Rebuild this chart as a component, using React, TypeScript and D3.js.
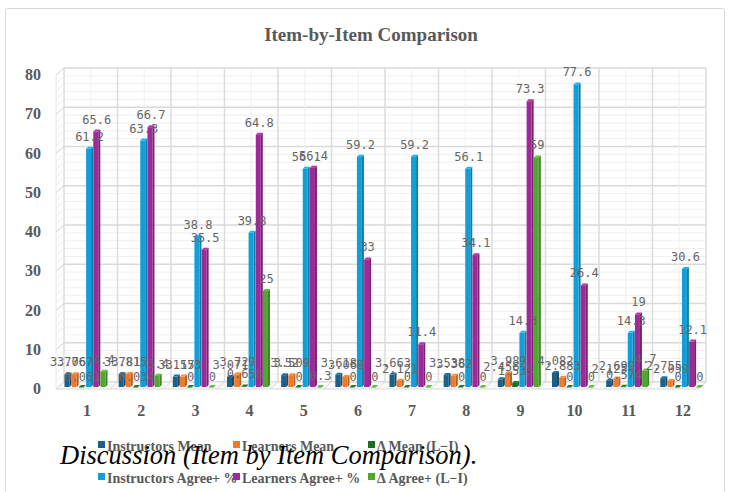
import React from 'react';
import * as d3 from 'd3';

const categories = ['1', '2', '3', '4', '5', '6', '7', '8', '9', '10', '11', '12'];
const instructorsMean = [3.706, 3.781, 3.157, 3.071, 3.52, 3.618, 3.663, 3.538, 2.456, 4.082, 2.125, 2.755];
const learnersMean = [3.767, 3.815, 3.153, 3.729, 3.509, 3.068, 2.121, 3.362, 3.989, 2.883, 2.699, 2.059];
const deltaMean = [0.061, 0.034, 0, 0.658, 0, 0, 0, 0, 1.533, 0, 0.574, 0];
const instructorsAgree = [61.2, 63.3, 38.8, 39.8, 56.1, 59.2, 59.2, 56.1, 14.3, 77.6, 14.3, 30.6];
const learnersAgree = [65.6, 66.7, 35.5, 64.8, 56.4, 33, 11.4, 34.1, 73.3, 26.4, 19, 12.1];
const deltaAgree = [4.4, 3.4, 0, 25, 0.3, 0, 0, 0, 59, 0, 4.7, 0];
const yTicks = [0, 10, 20, 30, 40, 50, 60, 70, 80];

const seriesNames = [
  'Instructors Mean',
  'Learners Mean',
  'Δ Mean (L−I)',
  'Instructors Agree+ %',
  'Learners Agree+ %',
  'Δ Agree+ (L−I)',
];
const seriesColors = ['#1d5f86', '#ee7a2e', '#1b6e24', '#109fd8', '#9d2a96', '#50a72f'];
const seriesData = [instructorsMean, learnersMean, deltaMean, instructorsAgree, learnersAgree, deltaAgree];

const SERIF = "'Liberation Serif', 'Times New Roman', serif";

export default function App() {
  const W = 730;
  const H = 492;
  const DX = 8;
  const DY = -7;
  const y = d3.scaleLinear().domain([0, 80]).range([389, 75]);
  const x = d3.scaleBand<string>().domain(categories).range([60, 710]).padding(0);
  const wallX0 = 56 + DX;
  const wallX1 = 698 + DX;
  const minorTicks = d3.range(0, 81, 2);
  const bw = 5;
  const depth = 2;
  const slot = 7.2;
  const gray = '#595959';

  const catBounds = d3.range(0, categories.length + 1).map((i) => wallX0 + (i * (wallX1 - wallX0)) / categories.length);

  return (
    <svg width={W} height={H} style={{ position: 'absolute', left: 0, top: 0, background: '#fff' }}>
      <rect x={5.5} y={8.5} width={719} height={520} fill="#fff" stroke="#d9d9d9" strokeWidth={1} rx={2} />
      <text x={371} y={41} textAnchor="middle" fontFamily={SERIF} fontWeight="bold" fontSize={19} fill={gray}>
        Item-by-Item Comparison
      </text>

      {/* back wall grid */}
      {minorTicks.map((t) => (
        <line key={'mh' + t} x1={wallX0} x2={wallX1} y1={y(t) + DY} y2={y(t) + DY} stroke={t % 10 === 0 ? '#d9d9d9' : '#efefef'} strokeWidth={t % 10 === 0 ? 1.5 : 1} />
      ))}
      {categories.map((c, i) => (
        <line key={'mv' + c} x1={(catBounds[i] + catBounds[i + 1]) / 2} x2={(catBounds[i] + catBounds[i + 1]) / 2} y1={y(80) + DY} y2={y(0) + DY} stroke="#efefef" strokeWidth={1} />
      ))}
      {catBounds.map((bx, i) => (
        <line key={'bv' + i} x1={bx} x2={bx} y1={y(80) + DY} y2={y(0) + DY} stroke="#dcdcdc" strokeWidth={1.5} />
      ))}
      {/* left side wall ticks */}
      {minorTicks.map((t) => (
        <line key={'sw' + t} x1={56} x2={wallX0} y1={y(t)} y2={y(t) + DY} stroke={t % 10 === 0 ? '#d0d0d0' : '#ececec'} strokeWidth={1} />
      ))}
      <line x1={56} x2={56} y1={y(0)} y2={y(80)} stroke="#e6e6e6" />
      {/* floor */}
      <polygon points={`56,${y(0)} ${wallX0},${y(0) + DY} ${wallX1},${y(0) + DY} 698,${y(0)}`} fill="#fafafa" stroke="#d9d9d9" strokeWidth={1} />
      {catBounds.map((bx, i) => (
        <line key={'fl' + i} x1={bx - DX} x2={bx} y1={y(0)} y2={y(0) + DY} stroke="#dcdcdc" strokeWidth={1} />
      ))}

      {/* y axis labels */}
      {yTicks.map((t) => (
        <text key={'yt' + t} x={41} y={y(t) + 5} textAnchor="end" fontFamily={SERIF} fontWeight="bold" fontSize={16} fill={gray}>
          {t}
        </text>
      ))}

      {/* bars */}
      {categories.map((c, ci) => {
        const cx = (x(c) as number) + x.bandwidth() / 2 - 1;
        const start = cx - (slot * 6) / 2;
        return (
          <g key={'g' + c}>
            {seriesData.map((arr, si) => {
              const v = arr[ci];
              const bx = start + si * slot;
              const base = y(0) - 2;
              const top = Math.min(y(v), base);
              const col = d3.color(seriesColors[si])!;
              const side = col.darker(0.7).toString();
              const topC = col.brighter(0.4).toString();
              return (
                <g key={'b' + si}>
                  <polygon points={`${bx + bw},${top} ${bx + bw + depth},${top - depth} ${bx + bw + depth},${base - depth} ${bx + bw},${base}`} fill={side} />
                  <polygon points={`${bx},${top} ${bx + depth},${top - depth} ${bx + bw + depth},${top - depth} ${bx + bw},${top}`} fill={topC} />
                  <rect x={bx} y={top} width={bw} height={Math.max(base - top, 0.5)} fill={seriesColors[si]} />
                </g>
              );
            })}
          </g>
        );
      })}

      {/* data labels */}
      {categories.map((c, ci) => {
        const cx = (x(c) as number) + x.bandwidth() / 2 - 1;
        const start = cx - (slot * 6) / 2;
        return (
          <g key={'l' + c}>
            {seriesData.map((arr, si) => {
              const v = arr[ci];
              const bx = start + si * slot;
              return (
                <text key={'t' + si} x={bx + bw / 2 + 1} y={y(v) - 8} textAnchor="middle" fontFamily="'DejaVu Sans Mono', monospace" fontSize={12} fill="#666">
                  {String(v)}
                </text>
              );
            })}
          </g>
        );
      })}

      {/* x axis labels */}
      {categories.map((c) => (
        <text key={'xl' + c} x={(x(c) as number) + x.bandwidth() / 2} y={416} textAnchor="middle" fontFamily={SERIF} fontWeight="bold" fontSize={16} fill={gray}>
          {c}
        </text>
      ))}

      {/* legend */}
      {seriesNames.map((n, i) => {
        const col = i % 3;
        const row = Math.floor(i / 3);
        const lx = [98, 233, 368][col];
        const ly = [445, 477][row];
        return (
          <g key={'lg' + i}>
            <rect x={lx} y={ly - 4} width={7} height={7} fill={seriesColors[i]} />
            <text x={lx + 9} y={ly + 6} fontFamily={SERIF} fontWeight="bold" fontSize={14} fill={gray}>
              {n}
            </text>
          </g>
        );
      })}

      <text x={60} y={464} fontFamily={SERIF} fontStyle="italic" fontSize={26.5} fill="#000">
        Discussion (Item by Item Comparison).
      </text>
    </svg>
  );
}
